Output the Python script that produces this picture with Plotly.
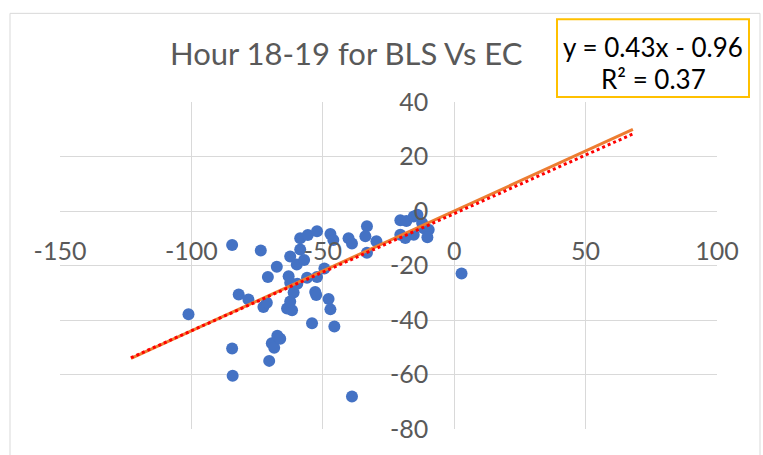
import plotly.graph_objects as go

# EC (x) and BLS (y) values, hour 18-19
ec = [-101.1, -84.5, -84.5, -84.3, -82.0, -78.3, -73.6, -72.6, -71.3, -70.9,
      -70.4, -69.4, -68.5, -67.5, -67.3, -66.2, -63.6, -61.7, -62.4, -61.1,
      -62.4, -59.7, -63.0, -62.4, -59.9, -57.1, -58.6, -58.6, -55.7, -52.2,
      -56.0, -52.2, -49.4, -52.9, -52.5, -47.8, -47.1, -54.1, -45.6, -38.9,
      -47.1, -46.0, -40.2, -38.9, -33.2, -33.8, -29.6, -33.2, -20.5, -18.2,
      -15.4, -14.0, -12.2, -20.5, -18.6, -15.4, -11.6, -9.7, -10.2, 2.8]
bls = [-37.9, -12.5, -50.5, -60.5, -30.6, -32.5, -14.5, -35.2, -33.7, -24.2,
       -55.0, -48.5, -50.2, -20.5, -45.8, -46.9, -35.8, -36.4, -33.2, -29.9,
       -26.3, -26.7, -23.9, -16.7, -19.6, -18.0, -14.1, -10.0, -8.8, -7.4,
       -24.5, -24.2, -21.1, -29.7, -30.8, -32.3, -36.1, -41.2, -42.4, -68.1,
       -8.4, -10.6, -10.0, -11.9, -5.6, -9.3, -11.1, -15.3, -3.4, -3.7,
       -2.0, -1.4, -4.4, -8.7, -9.9, -8.7, -6.3, -6.9, -9.6, -22.9]

# Line extents and fits
line_x = [-123, 68]
ref_slope = 0.44
trend_slope, trend_intercept = 0.43, -0.96
r_squared = 0.37

x_ticks = [-150, -100, -50, 0, 50, 100]
y_ticks = [-80, -60, -40, -20, 0, 20, 40]

W, H = 763, 455
ML, MR, MT, MB = 60, 46, 102, 21
PW, PH = W - ML - MR, H - MT - MB

def px_x(p):
    return (p - ML) / PW

def px_y(p):
    return (H - MB - p) / PH

GRAY = "#595959"
GRID = "#D9D9D9"
FONT = "Lato"

fig = go.Figure()
fig.add_trace(go.Scatter(
    x=ec, y=bls, mode="markers",
    marker=dict(color="#4472C4", size=12),
    showlegend=False, hoverinfo="x+y",
))
fig.add_trace(go.Scatter(
    x=line_x, y=[ref_slope * v for v in line_x], mode="lines",
    line=dict(color="#ED7D31", width=3), showlegend=False,
))
fig.add_trace(go.Scatter(
    x=line_x, y=[trend_slope * v + trend_intercept for v in line_x], mode="lines",
    line=dict(color="#FF0000", width=3, dash="dot"), showlegend=False,
))

fig.update_layout(
    width=W, height=H,
    margin=dict(l=ML, r=MR, t=MT, b=MB),
    paper_bgcolor="white", plot_bgcolor="white",
    font=dict(family=FONT, color=GRAY),
    xaxis=dict(
        range=[-150, 100], tickvals=x_ticks, ticktext=[str(v) for v in x_ticks],
        showgrid=True, gridcolor=GRID, gridwidth=1, zeroline=False,
        showline=False, anchor="free", position=(0 - y_ticks[0]) / (y_ticks[-1] - y_ticks[0]),
        ticks="", ticklabelstandoff=23, tickfont=dict(size=25, color=GRAY, family=FONT),
    ),
    yaxis=dict(
        range=[-80, 40], tickvals=y_ticks, ticktext=[str(v) for v in y_ticks],
        showgrid=True, gridcolor=GRID, gridwidth=1, zeroline=False,
        showline=False, anchor="free", position=(0 - x_ticks[0]) / (x_ticks[-1] - x_ticks[0]),
        ticks="", ticklabelstandoff=26, tickfont=dict(size=25, color=GRAY, family=FONT),
    ),
    shapes=[
        # chart area border
        dict(type="rect", xref="paper", yref="paper",
             x0=px_x(10), x1=px_x(760), y0=px_y(462), y1=px_y(12),
             line=dict(color="#D9D9D9", width=1), layer="below"),
        # trendline label box
        dict(type="rect", xref="paper", yref="paper",
             x0=px_x(557), x1=px_x(749), y0=px_y(97), y1=px_y(18),
             line=dict(color="#FFC000", width=2), fillcolor="white"),
    ],
    annotations=[
        dict(text="Hour 18-19 for BLS Vs EC", xref="paper", yref="paper",
             x=px_x(346), y=px_y(52), xanchor="center", yanchor="middle",
             showarrow=False, font=dict(size=31, color=GRAY, family=FONT)),
        dict(text=f"y = {trend_slope}x - {abs(trend_intercept)}", xref="paper", yref="paper",
             x=px_x(653), y=px_y(46), xanchor="center", yanchor="middle",
             showarrow=False, font=dict(size=26, color="#000000", family=FONT)),
        dict(text=f"R² = {r_squared}", xref="paper", yref="paper",
             x=px_x(653), y=px_y(79), xanchor="center", yanchor="middle",
             showarrow=False, font=dict(size=26, color="#000000", family=FONT)),
    ],
)

fig.write_html("out.html")
